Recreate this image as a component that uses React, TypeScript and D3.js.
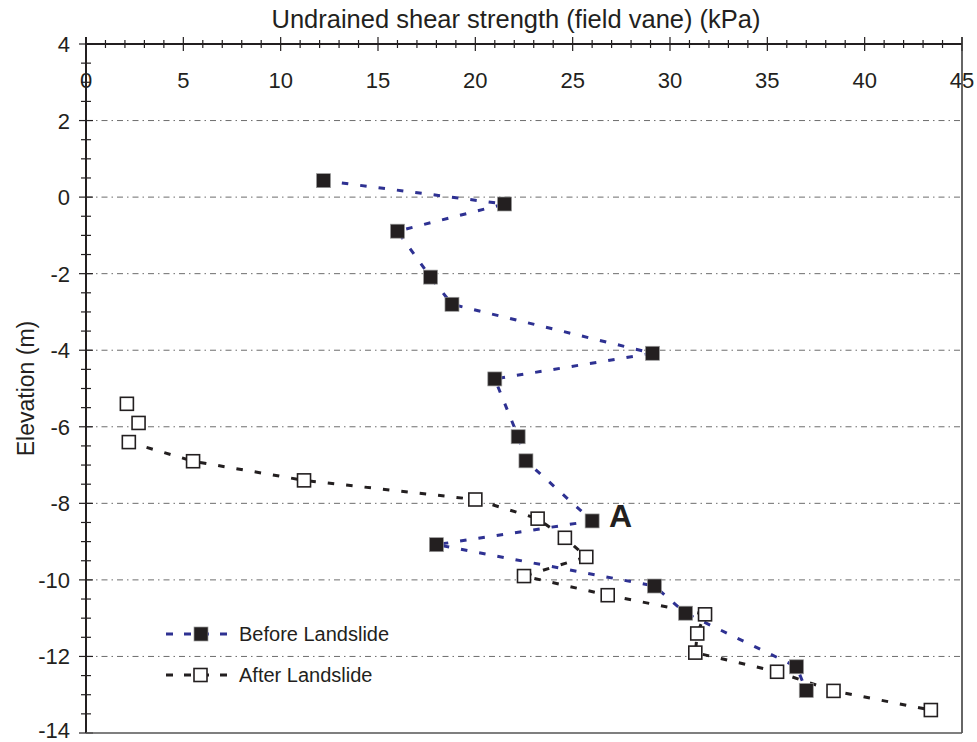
import React from "react";
import * as d3 from "d3";

const xTicks = [0, 5, 10, 15, 20, 25, 30, 35, 40, 45];
const yTicks = [4, 2, 0, -2, -4, -6, -8, -10, -12, -14];
const gridYs = [2, 0, -2, -4, -6, -8, -10, -12];

const beforeX = [12.2, 21.5, 16.0, 17.7, 18.8, 29.1, 21.0, 22.2, 22.6, 26.0, 18.0, 29.2, 30.8, 36.5, 37.0];
const beforeY = [0.43, -0.18, -0.89, -2.09, -2.8, -4.08, -4.75, -6.26, -6.89, -8.46, -9.08, -10.16, -10.87, -12.27, -12.89];

const afterX = [2.1, 2.7, 2.2, 5.5, 11.2, 20.0, 23.2, 24.6, 25.7, 22.5, 26.8, 31.8, 31.4, 31.3, 35.5, 38.4, 43.4];
const afterY = [-5.4, -5.9, -6.4, -6.9, -7.4, -7.9, -8.4, -8.9, -9.4, -9.9, -10.4, -10.9, -11.4, -11.9, -12.4, -12.9, -13.4];

const BLUE = "#2e3192";
const BLACK = "#231f20";

export default function App() {
  const x = d3.scaleLinear().domain([0, 45]).range([86, 962]);
  const y = d3.scaleLinear().domain([-14, 4]).range([733, 44]);

  const before = beforeX.map((v, i) => [v, beforeY[i]] as [number, number]);
  const after = afterX.map((v, i) => [v, afterY[i]] as [number, number]);
  const line = d3
    .line<[number, number]>()
    .x((d) => x(d[0]))
    .y((d) => y(d[1]));

  const xMinor = d3.range(0, 46, 1);
  const yMinor = d3.range(-14, 4.01, 0.5);

  const font = "'Liberation Sans', Arial, sans-serif";

  return (
    <svg width={977} height={742} style={{ position: "absolute", left: 0, top: 0, background: "#fff" }} fontFamily={font}>
      <rect x={0} y={0} width={977} height={742} fill="#fff" />
      {/* grid */}
      {gridYs.map((g) => (
        <line key={g} x1={x(0)} x2={x(45)} y1={y(g)} y2={y(g)} stroke="#6d6d6d" strokeWidth={1} strokeDasharray="6,4,1.5,4" />
      ))}
      {/* title */}
      <text x={516} y={28} textAnchor="middle" fontSize={25.5} fill={BLACK}>
        Undrained shear strength (field vane) (kPa)
      </text>
      {/* top axis */}
      <line x1={x(0)} x2={x(45)} y1={y(4)} y2={y(4)} stroke={BLACK} strokeWidth={2} />
      {xMinor.map((t) => {
        const major = t % 5 === 0;
        return (
          <line key={"xt" + t} x1={x(t)} x2={x(t)} y1={y(4) - (major ? 7 : 4)} y2={y(4) + (major ? 7 : 4)} stroke={BLACK} strokeWidth={1.2} />
        );
      })}
      {xTicks.map((t) => (
        <text key={"xl" + t} x={x(t)} y={88} textAnchor="middle" fontSize={22} fill={BLACK}>
          {t}
        </text>
      ))}
      {/* left axis */}
      <line x1={x(0)} x2={x(0)} y1={y(4) - 7} y2={y(-14)} stroke={BLACK} strokeWidth={2} />
      {yMinor.map((t) => {
        const major = Math.abs(Math.round(t) - t) < 1e-6 && Math.round(t) % 2 === 0;
        return (
          <line key={"yt" + t} x1={x(0) - (major ? 7 : 5)} x2={x(0) + (major ? 7 : 5)} y1={y(t)} y2={y(t)} stroke={BLACK} strokeWidth={1.2} />
        );
      })}
      {yTicks.map((t) => (
        <text key={"yl" + t} x={70} y={Math.min(y(t) + 8, 738)} textAnchor="end" fontSize={22} fill={BLACK}>
          {t}
        </text>
      ))}
      <text transform={`translate(34,${(y(4) + y(-14)) / 2}) rotate(-90)`} textAnchor="middle" fontSize={23} fill={BLACK}>
        Elevation (m)
      </text>
      {/* right and bottom borders */}
      <line x1={x(45)} x2={x(45)} y1={y(4) - 7} y2={y(-14)} stroke="#333" strokeWidth={1.5} />
      <line x1={x(0)} x2={x(45)} y1={y(-14)} y2={y(-14)} stroke="#555" strokeWidth={1.5} />
      {/* lines */}
      <path d={line(after.slice(2)) || ""} fill="none" stroke={BLACK} strokeWidth={3} strokeDasharray="6.5,12" />
      <path d={line(before) || ""} fill="none" stroke={BLUE} strokeWidth={3} strokeDasharray="6.5,12" />
      {/* markers */}
      {after.map((d, i) => (
        <rect key={"a" + i} x={x(d[0]) - 6.5} y={y(d[1]) - 6.5} width={13} height={13} fill="#fff" stroke={BLACK} strokeWidth={1.6} />
      ))}
      {before.map((d, i) => (
        <rect key={"b" + i} x={x(d[0]) - 7} y={y(d[1]) - 7} width={14} height={14} fill={BLACK} stroke="#9a9a9a" strokeWidth={0.7} />
      ))}
      {/* annotation */}
      <text x={609} y={527} fontSize={32} fontWeight="bold" fill={BLACK}>
        A
      </text>
      {/* legend */}
      <line x1={166} x2={234} y1={634} y2={634} stroke={BLUE} strokeWidth={3} strokeDasharray="7,11" />
      <rect x={194} y={627} width={14} height={14} fill={BLACK} stroke="#9a9a9a" strokeWidth={0.7} />
      <text x={239} y={641} fontSize={20} fill={BLACK}>
        Before Landslide
      </text>
      <line x1={166} x2={234} y1={675} y2={675} stroke={BLACK} strokeWidth={3} strokeDasharray="7,11" />
      <rect x={194} y={668.5} width={13} height={13} fill="#fff" stroke={BLACK} strokeWidth={1.6} />
      <text x={239} y={682} fontSize={20} fill={BLACK}>
        After Landslide
      </text>
    </svg>
  );
}
